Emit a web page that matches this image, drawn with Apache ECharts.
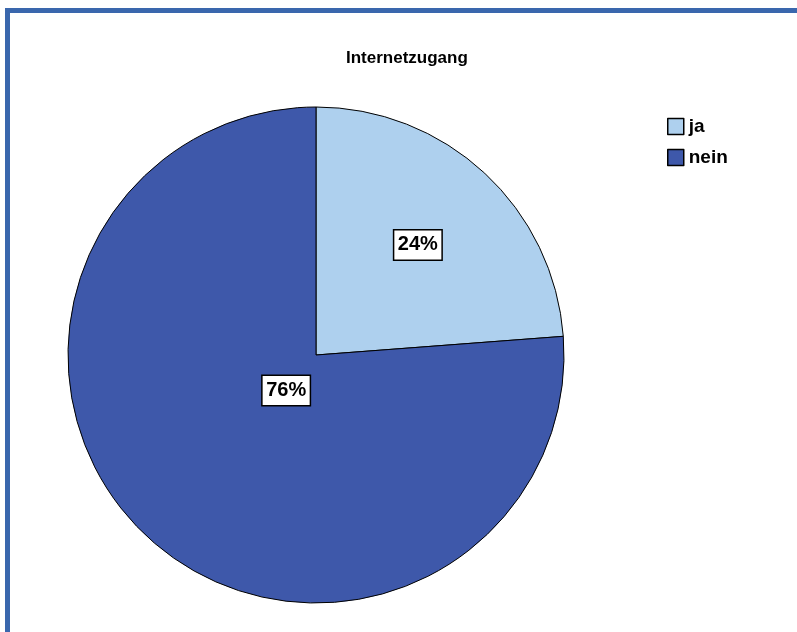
<!DOCTYPE html>
<html>
<head>
<meta charset="utf-8">
<script src="https://cdn.jsdelivr.net/npm/echarts@6/dist/echarts.min.js"></script>
<style>
  body { margin: 0; background: #fff; }
  .frame {
    position: absolute; left: 5px; top: 8px; width: 792px; height: 624px;
    border-top: 5px solid #3A67AD; border-left: 5px solid #3A67AD;
    box-sizing: border-box;
  }
  #chart { position: absolute; left: 0; top: 0; width: 797px; height: 632px; }
</style>
</head>
<body>
<div class="frame"></div>
<div id="chart"></div>
<script>
  const titleText = 'Internetzugang'
  const categories = ['ja', 'nein']
  const values = [23.8, 76.2]
  const colors = ['#AED0EE', '#3E58AA']

  // label shifts away from the default "inside" spot, like the original
  const labelOffsets = [[15.5, -17], [56.5, -57.5]]

  let myChart = echarts.init(document.getElementById('chart'))

  const option = {
    color: colors,
    animation: false,
    title: {
      text: titleText,
      left: 341,
      top: 45,
      textStyle: {
        fontFamily: 'Liberation Sans, Arial',
        fontSize: 17,
        fontWeight: 'bold',
        color: '#000'
      }
    },
    legend: {
      orient: 'vertical',
      left: 662,
      top: 112,
      icon: 'rect',
      itemWidth: 16,
      itemHeight: 16,
      itemGap: 12,
      data: categories,
      itemStyle: {
        borderColor: '#000',
        borderWidth: 1.5
      },
      textStyle: {
        fontFamily: 'Liberation Sans, Arial',
        fontSize: 19,
        fontWeight: 'bold',
        color: '#000'
      }
    },
    series: [
      {
        type: 'pie',
        center: [316, 355],
        radius: 248,
        startAngle: 90,
        clockwise: true,
        percentPrecision: 0,
        itemStyle: {
          borderColor: '#000',
          borderWidth: 1
        },
        label: {
          show: true,
          position: 'inside',
          formatter: '{d}%',
          fontFamily: 'Liberation Sans, Arial',
          fontSize: 20,
          fontWeight: 'bold',
          color: '#000',
          backgroundColor: '#fff',
          borderColor: '#000',
          borderWidth: 1.5,
          padding: [5, 3.5, 4, 3.5]
        },
        emphasis: { disabled: true },
        data: categories.map((name, i) => ({
          name: name,
          value: values[i],
          label: { offset: labelOffsets[i] }
        }))
      }
    ]
  }
  myChart.setOption(option)
</script>
</body>
</html>
